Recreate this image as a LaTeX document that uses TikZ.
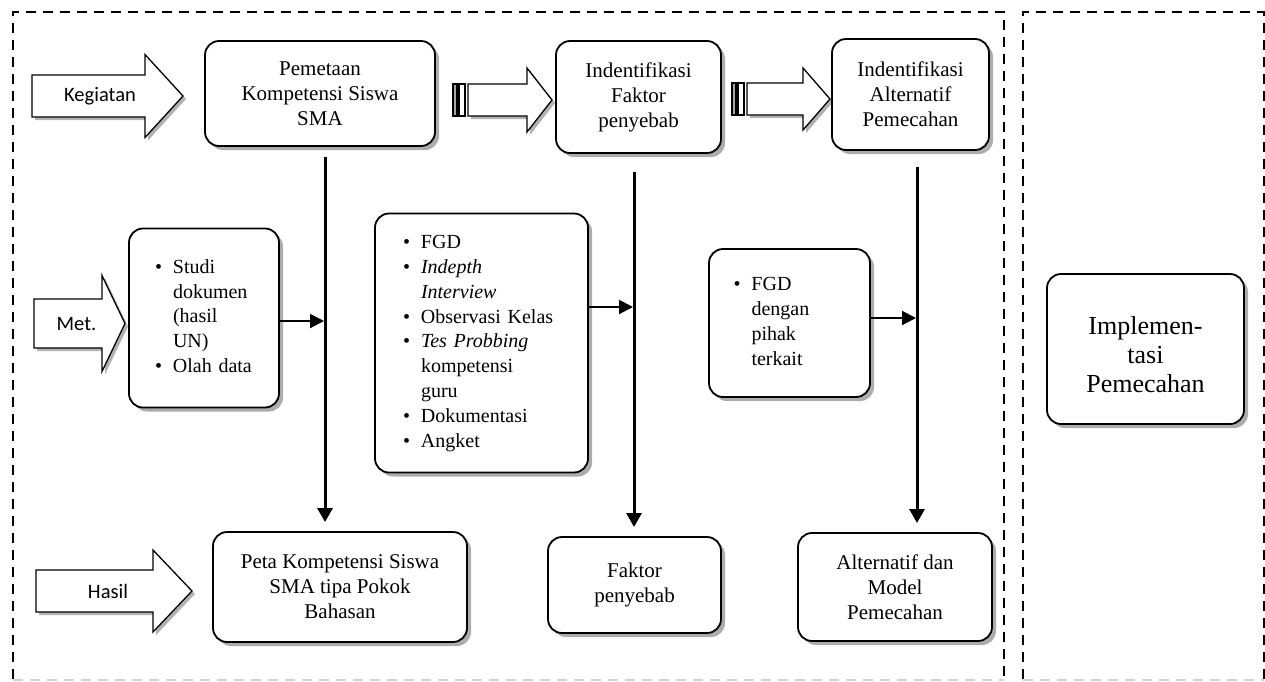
\documentclass[tikz,border=0pt]{standalone}
\usepackage{fontspec}
\setmainfont{Liberation Serif}
\newfontfamily\calfont{Carlito}
\usetikzlibrary{shadows,arrows.meta}
\newcommand{\bitem}[1]{\makebox[18pt][l]{\textbullet}#1}
\newcommand{\bcont}[1]{\hspace*{18pt}#1}
\newcommand{\blist}[1]{\begin{tabular}{@{}l@{}}#1\end{tabular}}
% x0, xh, xt, ym, sh, hh
\newcommand{\blockarrow}[6]{%
  \fill[gray!60] (#1+3,#4-#5+3) -- (#2+3,#4-#5+3) -- (#2+3,#4-#6+3) -- (#3+3,#4+3) -- (#2+3,#4+#6+3) -- (#2+3,#4+#5+3) -- (#1+3,#4+#5+3) -- cycle;
  \draw[arrowline] (#1,#4-#5) -- (#2,#4-#5) -- (#2,#4-#6) -- (#3,#4) -- (#2,#4+#6) -- (#2,#4+#5) -- (#1,#4+#5) -- cycle;}
% xb1, xb2, x0, xh, xt, ym, sh, hh
\newcommand{\stripedarrow}[8]{%
  \fill[gray!60] (#3+3,#6-#7+3) -- (#4+3,#6-#7+3) -- (#4+3,#6-#8+3) -- (#5+3,#6+3) -- (#4+3,#6+#8+3) -- (#4+3,#6+#7+3) -- (#3+3,#6+#7+3) -- cycle;
  \draw[arrowline,fill=gray!70] (#1,#6-#7) rectangle (#1+4,#6+#7);
  \draw[arrowline] (#2,#6-#7) rectangle (#2+6,#6+#7);
  \draw[arrowline] (#3,#6-#7) -- (#4,#6-#7) -- (#4,#6-#8) -- (#5,#6) -- (#4,#6+#8) -- (#4,#6+#7) -- (#3,#6+#7) -- cycle;}
\tikzset{
  arrowline/.style={draw=black,fill=white,line width=1.3pt,line join=miter},
  box/.style={draw,line width=1.8pt,rounded corners=14pt,fill=white,align=center,inner sep=0pt,
    font=\fontsize{21}{25}\selectfont,
    drop shadow={shadow xshift=4pt,shadow yshift=-4pt,fill=gray!65,opacity=1}},
  listbox/.style={box,align=left,font=\fontsize{20}{24.8}\selectfont},
  lab/.style={font=\calfont\fontsize{20.5}{24}\selectfont,inner sep=0pt},
  frame/.style={line width=2pt,dash pattern=on 10pt off 7pt},
  vconn/.style={line width=3pt,-{Triangle[width=15pt,length=14pt]}},
  hconn/.style={line width=2pt,-{Triangle[width=14pt,length=14pt]}}
}
\begin{document}
\begin{tikzpicture}[x=1pt,y=-1pt]
\useasboundingbox (0,0) rectangle (1265,681);
% frames
\draw[frame] (13,679) -- (13,12) -- (1004,12) -- (1004,679);
\draw[frame] (1023,679) -- (1023,12) -- (1263.5,12) -- (1263.5,679);
\draw[line width=1.5pt,dash pattern=on 10pt off 7pt,gray!35] (13,680) -- (1004,680);
\draw[line width=1.5pt,dash pattern=on 10pt off 7pt,gray!35] (1023,680) -- (1263.5,680);
% left block arrows
\blockarrow{32}{145}{183}{96}{21}{41.5}
\node[lab] (kegl) at (100,96) {Kegiatan};
\blockarrow{34}{102}{125}{323.5}{24.5}{48}
\node[lab] (metl) at (76.5,323.5) {Met.};
\blockarrow{36}{153}{192}{591}{21}{41}
\node[lab] (hasl) at (108,591) {Hasil};
% striped arrows
\stripedarrow{453}{459}{468}{527}{552}{100}{16}{32}
\stripedarrow{732}{738}{747}{803}{830}{99}{16}{31}
% top boxes
\node[box,minimum width=230pt,minimum height=105pt] (pem) at (320,93.5) {Pemetaan\\Kompetensi Siswa\\SMA};
\node[box,minimum width=165pt,minimum height=112pt] (ifak) at (638.5,97) {Indentifikasi\\Faktor\\penyebab};
\node[box,minimum width=157pt,minimum height=111pt] (ialt) at (910.5,94.5) {Indentifikasi\\Alternatif\\Pemecahan};
% method boxes
\node[listbox,minimum width=150pt,minimum height=179pt,text width=98pt] (studi) at (204,318)
  {\blist{\bitem{Studi}\\\bcont{dokumen}\\\bcont{(hasil}\\\bcont{UN)}\\\bitem{Olah data}}};
\node[listbox,minimum width=213pt,minimum height=259pt,text width=157pt] (fgd) at (481.5,343)
  {\blist{\bitem{FGD}\\\bitem{\textit{Indepth}}\\\bcont{\textit{Interview}}\\\bitem{Observasi Kelas}\\\bitem{\textit{Tes Probbing}}\\\bcont{kompetensi}\\\bcont{guru}\\\bitem{Dokumentasi}\\\bitem{Angket}}};
\node[listbox,minimum width=161pt,minimum height=148pt,text width=112pt] (fgd2) at (789.5,323)
  {\blist{\bitem{FGD}\\\bcont{dengan}\\\bcont{pihak}\\\bcont{terkait}}};
% result boxes
\node[box,minimum width=254pt,minimum height=110pt] (peta) at (340,587) {Peta Kompetensi Siswa\\SMA tipa Pokok\\Bahasan};
\node[box,minimum width=173pt,minimum height=96pt] (fak) at (634.5,585) {Faktor\\penyebab};
\node[box,minimum width=194pt,minimum height=108pt] (alt) at (895,587) {Alternatif dan\\Model\\Pemecahan};
% implementation
\node[box,minimum width=197pt,minimum height=150pt,font=\fontsize{26}{29}\selectfont] (impl) at (1145.5,349) {\rule{0pt}{30pt}Implemen-\\tasi\\Pemecahan};
% connectors
\coordinate (v1t) at (325,157);
\coordinate (v1b) at (325,522);
\coordinate (v2t) at (634,172);
\coordinate (v2b) at (634,527);
\coordinate (v3t) at (917,167);
\coordinate (v3b) at (917,523);
\draw[vconn] (v1t) -- (v1b);
\draw[vconn] (v2t) -- (v2b);
\draw[vconn] (v3t) -- (v3b);
\coordinate (h1) at (324,321);
\coordinate (h2) at (633,307);
\coordinate (h3) at (916,318);
\draw[hconn] (studi.east |- h1) -- (h1);
\draw[hconn] (fgd.east |- h2) -- (h2);
\draw[hconn] (fgd2.east |- h3) -- (h3);
\end{tikzpicture}
\end{document}
